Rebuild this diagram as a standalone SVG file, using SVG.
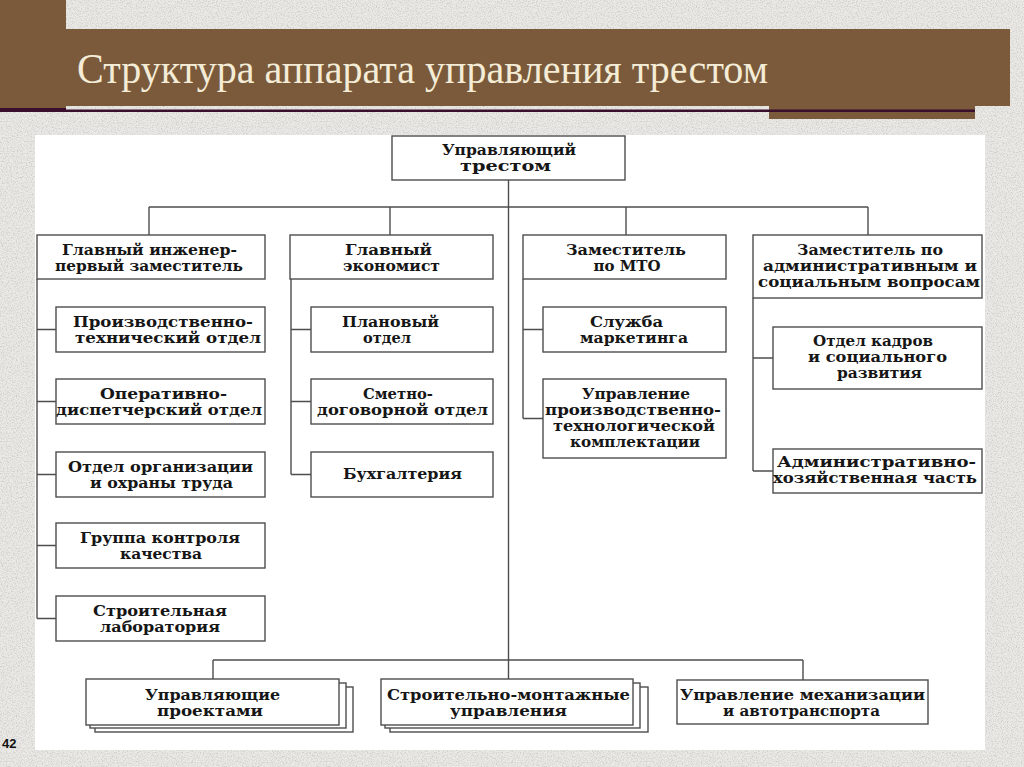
<svg xmlns="http://www.w3.org/2000/svg" width="1024" height="767" viewBox="0 0 1024 767">
<defs>
<filter id="grain" x="0" y="0" width="100%" height="100%">
<feTurbulence type="fractalNoise" baseFrequency="0.8" numOctaves="2" seed="7"/>
<feColorMatrix type="matrix" values="0 0 0 0 0.62  0 0 0 0 0.61  0 0 0 0 0.59  3 0 0 0 -1.35"/>
</filter>
<style>
.box{fill:#fff;stroke:#4d4d4d;stroke-width:1.4}
.ln{fill:none;stroke:#4d4d4d;stroke-width:1.4}
.t{font-family:"DejaVu Serif","Liberation Serif",serif;font-weight:bold;font-size:15px;fill:#161616;text-anchor:middle}
.brown{fill:#7a5a3b}
.dark{fill:#3a0f2c}
</style>
</defs>
<rect x="0" y="0" width="1024" height="767" fill="#ebe9e5"/>
<rect x="0" y="0" width="1024" height="767" filter="url(#grain)"/>
<!-- header -->
<g id="header">
<rect class="brown" x="0" y="0" width="66" height="108"/>
<rect class="dark" x="0" y="108" width="66" height="4"/>
<rect class="brown" x="66" y="29" width="944" height="77"/>
<rect class="brown" x="769" y="106" width="206" height="13"/>
<rect class="dark" x="66" y="109.5" width="909" height="2.5"/>
<text x="77" y="83" font-family="'Liberation Serif',serif" font-size="42" fill="#f4ecd6" textLength="691" lengthAdjust="spacingAndGlyphs">Структура аппарата управления трестом</text>
</g>
<rect id="panel" x="35" y="135" width="950" height="615" fill="#fff"/>
<text x="2" y="748" font-family="'Liberation Sans',sans-serif" font-weight="bold" font-size="13" fill="#111">42</text>
<!-- connectors -->
<g id="connectors">
<path class="ln" d="M508.5 180V679M149 207H868M149 207V235M390 207V235M626 207V235M868 207V235"/>
<path class="ln" d="M37 279V618.5M37 329.5H56M37 401.5H56M37 474.5H56M37 545.5H56M37 618.5H56"/>
<path class="ln" d="M291 279V474.5M291 329.5H311M291 401.5H311M291 474.5H311"/>
<path class="ln" d="M523 279V418.5M523 329.5H543M523 418.5H543"/>
<path class="ln" d="M753 298V471M753 358H773M753 471H773"/>
<path class="ln" d="M213 660H803M213 660V679M803 660V680"/>
</g>
<!-- top -->
<g id="n-top">
<rect class="box" x="392" y="136" width="233" height="44"/>
<text class="t" x="509" y="155" textLength="134" lengthAdjust="spacingAndGlyphs">Управляющий</text>
<text class="t" x="505.5" y="171" textLength="91" lengthAdjust="spacingAndGlyphs">трестом</text>
</g>
<!-- level 2 -->
<g id="n-engineer">
<rect class="box" x="37" y="235" width="228" height="44"/>
<text class="t" x="149.5" y="255" textLength="175" lengthAdjust="spacingAndGlyphs">Главный инженер-</text>
<text class="t" x="149" y="271" textLength="188" lengthAdjust="spacingAndGlyphs">первый заместитель</text>
</g>
<g id="n-economist">
<rect class="box" x="290" y="235" width="203" height="44"/>
<text class="t" x="388.5" y="255" textLength="87" lengthAdjust="spacingAndGlyphs">Главный</text>
<text class="t" x="391.5" y="271" textLength="97" lengthAdjust="spacingAndGlyphs">экономист</text>
</g>
<g id="n-mto">
<rect class="box" x="523" y="235" width="203" height="44"/>
<text class="t" x="626" y="255" textLength="120" lengthAdjust="spacingAndGlyphs">Заместитель</text>
<text class="t" x="627" y="271">по МТО</text>
</g>
<g id="n-admin">
<rect class="box" x="753" y="235" width="229" height="63"/>
<text class="t" x="870" y="255" textLength="146" lengthAdjust="spacingAndGlyphs">Заместитель по</text>
<text class="t" x="870" y="271" textLength="214" lengthAdjust="spacingAndGlyphs">административным и</text>
<text class="t" x="869" y="287" textLength="222" lengthAdjust="spacingAndGlyphs">социальным вопросам</text>
</g>
<!-- column A -->
<g id="n-pto">
<rect class="box" x="56" y="307" width="209" height="45"/>
<text class="t" x="163" y="327" textLength="180" lengthAdjust="spacingAndGlyphs">Производственно-</text>
<text class="t" x="168" y="343" textLength="186" lengthAdjust="spacingAndGlyphs">технический отдел</text>
</g>
<g id="n-odo">
<rect class="box" x="56" y="379" width="209" height="45"/>
<text class="t" x="163.5" y="399" textLength="127" lengthAdjust="spacingAndGlyphs">Оперативно-</text>
<text class="t" x="159" y="415" textLength="206" lengthAdjust="spacingAndGlyphs">диспетчерский отдел</text>
</g>
<g id="n-oot">
<rect class="box" x="56" y="452" width="209" height="45"/>
<text class="t" x="160.5" y="472" textLength="185" lengthAdjust="spacingAndGlyphs">Отдел организации</text>
<text class="t" x="161.5" y="488" textLength="143" lengthAdjust="spacingAndGlyphs">и охраны труда</text>
</g>
<g id="n-gkk">
<rect class="box" x="56" y="523" width="209" height="45"/>
<text class="t" x="160" y="543" textLength="160" lengthAdjust="spacingAndGlyphs">Группа контроля</text>
<text class="t" x="161" y="559" textLength="82" lengthAdjust="spacingAndGlyphs">качества</text>
</g>
<g id="n-lab">
<rect class="box" x="56" y="596" width="209" height="45"/>
<text class="t" x="160" y="616" textLength="134" lengthAdjust="spacingAndGlyphs">Строительная</text>
<text class="t" x="160" y="632" textLength="120" lengthAdjust="spacingAndGlyphs">лаборатория</text>
</g>
<!-- column B -->
<g id="n-plan">
<rect class="box" x="311" y="307" width="182" height="45"/>
<text class="t" x="390.5" y="327" textLength="97" lengthAdjust="spacingAndGlyphs">Плановый</text>
<text class="t" x="387" y="343" textLength="48" lengthAdjust="spacingAndGlyphs">отдел</text>
</g>
<g id="n-smeta">
<rect class="box" x="311" y="379" width="182" height="45"/>
<text class="t" x="398" y="399" textLength="70" lengthAdjust="spacingAndGlyphs">Сметно-</text>
<text class="t" x="402.5" y="415" textLength="171" lengthAdjust="spacingAndGlyphs">договорной отдел</text>
</g>
<g id="n-buh">
<rect class="box" x="311" y="452" width="182" height="45"/>
<text class="t" x="402.5" y="479" textLength="119" lengthAdjust="spacingAndGlyphs">Бухгалтерия</text>
</g>
<!-- column C -->
<g id="n-market">
<rect class="box" x="543" y="307" width="183" height="45"/>
<text class="t" x="626.5" y="327" textLength="73" lengthAdjust="spacingAndGlyphs">Служба</text>
<text class="t" x="634" y="343" textLength="108" lengthAdjust="spacingAndGlyphs">маркетинга</text>
</g>
<g id="n-uptk">
<rect class="box" x="543" y="379" width="183" height="79"/>
<text class="t" x="636" y="399" textLength="108" lengthAdjust="spacingAndGlyphs">Управление</text>
<text class="t" x="633" y="415" textLength="176" lengthAdjust="spacingAndGlyphs">производственно-</text>
<text class="t" x="634" y="431" textLength="162" lengthAdjust="spacingAndGlyphs">технологической</text>
<text class="t" x="635" y="447" textLength="130" lengthAdjust="spacingAndGlyphs">комплектации</text>
</g>
<!-- column D -->
<g id="n-kadry">
<rect class="box" x="773" y="327" width="209" height="62"/>
<text class="t" x="873" y="346" textLength="120" lengthAdjust="spacingAndGlyphs">Отдел кадров</text>
<text class="t" x="877.5" y="362" textLength="139" lengthAdjust="spacingAndGlyphs">и социального</text>
<text class="t" x="879.5" y="378" textLength="85" lengthAdjust="spacingAndGlyphs">развития</text>
</g>
<g id="n-ahch">
<rect class="box" x="773" y="449" width="209" height="44"/>
<text class="t" x="876.5" y="467" textLength="199" lengthAdjust="spacingAndGlyphs">Административно-</text>
<text class="t" x="875" y="483" textLength="204" lengthAdjust="spacingAndGlyphs">хозяйственная часть</text>
</g>
<!-- bottom -->
<g id="n-projects">
<rect class="box" x="95" y="687" width="258" height="45"/>
<rect class="box" x="90" y="683" width="256" height="45"/>
<rect class="box" x="86" y="679" width="253" height="46"/>
<text class="t" x="212.5" y="700" textLength="135" lengthAdjust="spacingAndGlyphs">Управляющие</text>
<text class="t" x="210" y="716" textLength="106" lengthAdjust="spacingAndGlyphs">проектами</text>
</g>
<g id="n-smu">
<rect class="box" x="390" y="687" width="258" height="45"/>
<rect class="box" x="385" y="683" width="255" height="45"/>
<rect class="box" x="381" y="679" width="252" height="46"/>
<text class="t" x="508.5" y="700" textLength="243" lengthAdjust="spacingAndGlyphs">Строительно-монтажные</text>
<text class="t" x="508.5" y="716" textLength="117" lengthAdjust="spacingAndGlyphs">управления</text>
</g>
<g id="n-mech">
<rect class="box" x="677" y="680" width="251" height="44"/>
<text class="t" x="802.5" y="700" textLength="245" lengthAdjust="spacingAndGlyphs">Управление механизации</text>
<text class="t" x="801.5" y="716" textLength="157" lengthAdjust="spacingAndGlyphs">и автотранспорта</text>
</g>
</svg>
